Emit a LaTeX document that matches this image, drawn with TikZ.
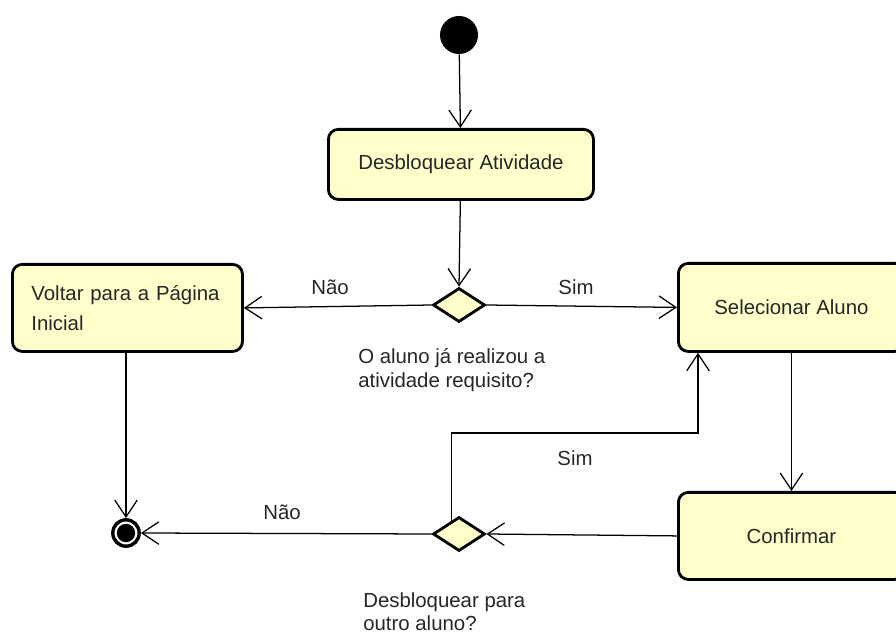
\documentclass[tikz,border=0pt]{standalone}
\usepackage{fontspec}
\setmainfont{Liberation Sans}
\usetikzlibrary{arrows.meta,shapes.geometric}
\definecolor{actfill}{RGB}{255,255,204}
\begin{document}
\begin{tikzpicture}[x=0.025cm,y=-0.025cm,
  txt/.style={font=\fontsize{14.5}{17}\selectfont, text=black!85},
  act/.style={txt, draw, line width=2pt, rounded corners=7pt, fill=actfill,
    inner sep=0pt, anchor=north west},
  dec/.style={diamond, draw, line width=2pt, fill=actfill, inner sep=0pt,
    minimum width=1.3cm, minimum height=0.85cm, aspect=1.5},
  arr/.style={-{Straight Barb[length=12pt,width=16pt]}, line width=0.9pt},
  lbl/.style={txt, inner sep=0pt},
  note/.style={txt, inner sep=0pt, align=left, anchor=north west,
    font=\fontsize{14.5}{17}\selectfont}
]
\useasboundingbox (0,0) rectangle (896,635);
\clip (0,0) rectangle (896,635);

% start and end
\node[circle, fill=black, minimum size=0.95cm, inner sep=0pt] (init) at (459,35) {};
\node[circle, draw, line width=2.4pt, fill=white, minimum size=0.66cm, inner sep=0pt] (final) at (126,533) {};
\node[circle, fill=black, minimum size=0.46cm, inner sep=0pt] (finalcore) at (final.center) {};

% activities
\node[act, minimum width=6.625cm, minimum height=1.75cm, align=center] (desb) at (327,128) {Desbloquear Atividade};
\node[act, text width=4.8cm, inner xsep=0.475cm, minimum height=2.175cm, align=left,
  font=\fontsize{14.5}{21}\selectfont] (voltar) at (11,263) {Voltar para a Página\\Inicial};
\node[act, minimum width=5.65cm, minimum height=2.2cm, align=center] (sel) at (677,262) {Selecionar Aluno};
\node[act, minimum width=5.65cm, minimum height=2.175cm, align=center] (conf) at (677,491) {Confirmar};

% decisions
\node[dec] (d1) at (459,305) {};
\node[dec] (d2) at (459,534) {};
\node[note] (q1) at (358,348) {O aluno já realizou a\\atividade requisito?};
\node[note] (q2) at (363,592) {Desbloquear para\\outro aluno?};

% flows
\draw[arr] (init) -- (desb);
\draw[arr] (desb) -- (d1.north);
\draw[arr] (d1.west) -- (voltar.east);
\draw[arr] (d1.east) -- (sel.west);
\draw[arr] (sel.south) -- (conf.north);
\draw[arr] (conf.west) -- (d2.east);
\coordinate (loop) at (698,433);
\draw[arr] (d2.120) |- (loop) -- (loop |- sel.south);
\draw[arr] (d2.west) -- (final.east);
\draw[arr] (voltar.south -| final) -- (final.north);

% guard labels
\node[lbl] (nao1) at (330,287) {Não};
\node[lbl] (sim1) at (576,287) {Sim};
\node[lbl] (sim2) at (575,458) {Sim};
\node[lbl] (nao2) at (282,512) {Não};
\end{tikzpicture}
\end{document}
